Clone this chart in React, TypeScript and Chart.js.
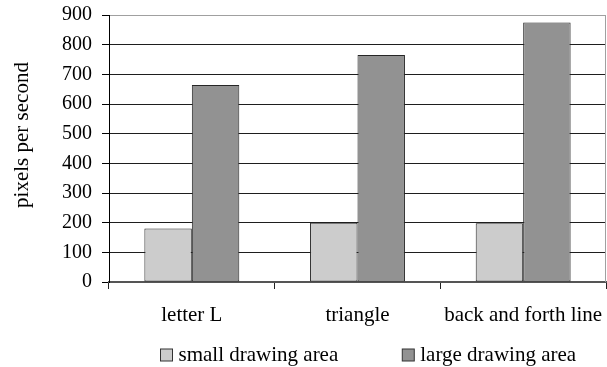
import { useEffect, useRef } from 'react';
import { Chart, registerables } from 'chart.js';

Chart.register(...registerables);

// Throughput per test shape, for the two canvas sizes
const categories = ['letter L', 'triangle', 'back and forth line'];
const smallArea = [180, 200, 198];
const largeArea = [664, 765, 875];
const seriesNames = ['small drawing area', 'large drawing area'];
const seriesColors = ['#cccccc', '#929292'];
const yTitle = 'pixels per second';
const yMin = 0;
const yMax = 900;
const yStep = 100;

const SERIF = "'Liberation Serif', 'Times New Roman', Times, serif";

export default function App() {
  const ref = useRef<HTMLCanvasElement>(null);

  useEffect(() => {
    const canvas = ref.current;
    if (!canvas) return;

    // Rotated y-axis caption on the left side
    const sideTitle = {
      id: 'sideTitle',
      afterDraw(chart: any) {
        const { ctx } = chart;
        ctx.save();
        ctx.translate(22, 135);
        ctx.rotate(-Math.PI / 2);
        ctx.font = `21px ${SERIF}`;
        ctx.fillStyle = '#000';
        ctx.textAlign = 'center';
        ctx.textBaseline = 'middle';
        ctx.fillText(yTitle, 0, 0);
        ctx.restore();
      },
    };

    // Single-row legend under the category labels
    const legendRow = {
      id: 'legendRow',
      afterDraw(chart: any) {
        const { ctx } = chart;
        ctx.save();
        ctx.font = `21px ${SERIF}`;
        ctx.textBaseline = 'middle';
        ctx.textAlign = 'left';
        let x = 160.5;
        const yMid = 355;
        chart.data.datasets.forEach((ds: any) => {
          ctx.fillStyle = ds.backgroundColor;
          ctx.fillRect(x, yMid - 6, 12, 12);
          ctx.strokeStyle = '#333';
          ctx.lineWidth = 1;
          ctx.strokeRect(x, yMid - 6, 12, 12);
          ctx.fillStyle = '#000';
          ctx.fillText(ds.label, x + 18, yMid);
          x += 18 + ctx.measureText(ds.label).width + 64;
        });
        ctx.restore();
      },
    };

    // Light frame line on the right edge of the plot
    const frame = {
      id: 'frame',
      beforeDatasetsDraw(chart: any) {
        const { ctx, chartArea } = chart;
        ctx.save();
        ctx.strokeStyle = '#a0a0a0';
        ctx.lineWidth = 1;
        ctx.beginPath();
        const xr = Math.round(chartArea.right) - 0.5;
        ctx.moveTo(xr, chartArea.top);
        ctx.lineTo(xr, chartArea.bottom);
        ctx.stroke();
        ctx.restore();
      },
    };

    const chart = new Chart(canvas, {
      type: 'bar',
      data: {
        labels: categories,
        datasets: [
          {
            label: seriesNames[0],
            data: smallArea,
            backgroundColor: seriesColors[0],
            borderColor: '#262626',
            borderWidth: 1,
            borderSkipped: false,
          },
          {
            label: seriesNames[1],
            data: largeArea,
            backgroundColor: seriesColors[1],
            borderColor: '#262626',
            borderWidth: 1,
            borderSkipped: false,
          },
        ],
      },
      options: {
        animation: false,
        responsive: false,
        devicePixelRatio: 1,
        layout: { padding: { left: 0, right: 1, top: 15, bottom: 40 } },
        plugins: {
          legend: { display: false },
          tooltip: { enabled: false },
        },
        datasets: {
          bar: { barPercentage: 1, categoryPercentage: 0.573 },
        },
        scales: {
          x: {
            offset: true,
            grid: {
              offset: true,
              drawOnChartArea: false,
              drawTicks: true,
              tickLength: 7,
              tickColor: '#222',
            },
            border: { color: '#555', width: 2 },
            ticks: {
              color: '#000',
              font: { family: SERIF, size: 21 },
              padding: 14,
              maxRotation: 0,
              autoSkip: false,
            },
            afterFit: (s: any) => {
              s.height = 45;
              s.paddingLeft = 0;
              s.paddingRight = 0;
            },
          },
          y: {
            min: yMin,
            max: yMax,
            ticks: {
              stepSize: yStep,
              color: '#000',
              font: { family: SERIF, size: 20 },
              padding: 10,
            },
            grid: {
              color: (c: any) =>
                c.tick && c.tick.value === yMax
                  ? '#a0a0a0'
                  : c.tick && c.tick.value === yMin
                  ? '#555'
                  : '#1e1e1e',
              tickColor: '#000',
              tickLength: 7,
            },
            border: { color: '#000', width: 1 },
            afterFit: (s: any) => {
              s.width = 109;
              s.paddingTop = 0;
              s.paddingBottom = 0;
            },
          },
        },
      },
      plugins: [frame, sideTitle, legendRow],
    });

    return () => chart.destroy();
  }, []);

  return (
    <div style={{ position: 'fixed', left: 0, top: 0, width: 607, height: 367, background: '#fff' }}>
      <canvas ref={ref} width={607} height={367} style={{ display: 'block' }} />
    </div>
  );
}
